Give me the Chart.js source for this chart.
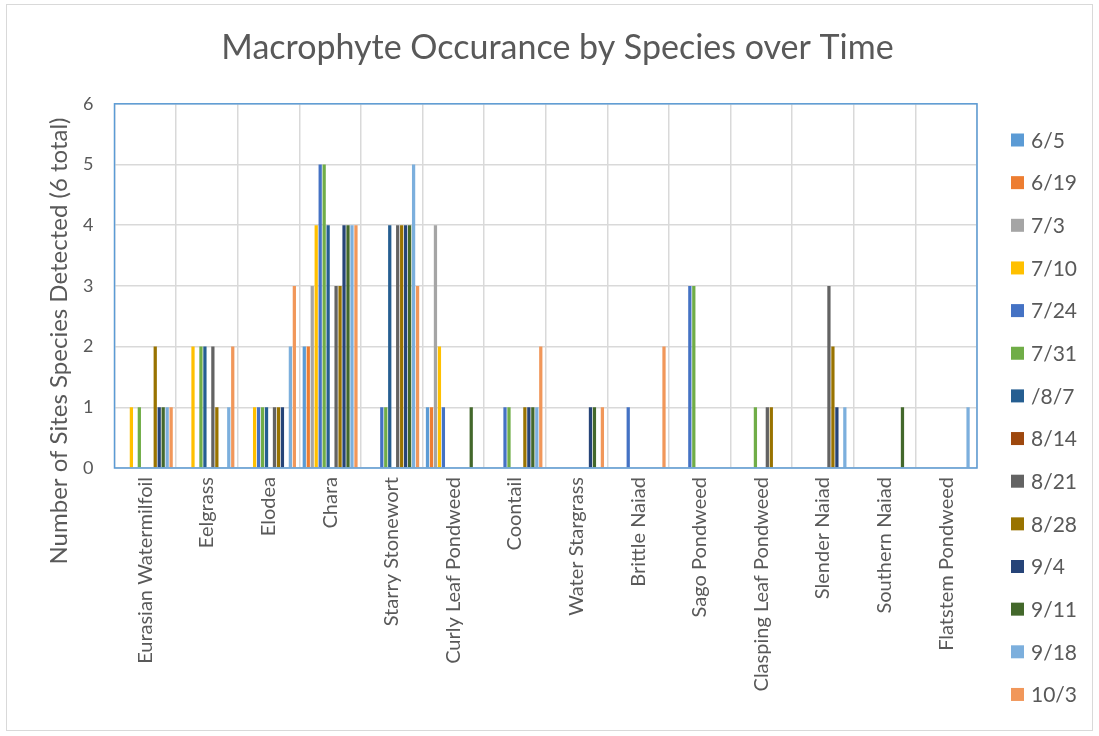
<!DOCTYPE html>
<html>
<head>
<meta charset="utf-8">
<script src="https://cdn.jsdelivr.net/npm/chart.js@4.4.1/dist/chart.umd.min.js"></script>
<style>
  html, body { margin: 0; padding: 0; background: #ffffff; }
  canvas { display: block; }
</style>
</head>
<body>
<canvas id="chart" width="1099" height="736"></canvas>
<script>
// Species surveyed (x categories)
const species = [
  'Eurasian Watermilfoil', 'Eelgrass', 'Elodea', 'Chara', 'Starry Stonewort',
  'Curly Leaf Pondweed', 'Coontail', 'Water Stargrass', 'Brittle Naiad',
  'Sago Pondweed', 'Clasping Leaf Pondweed', 'Slender Naiad', 'Southern Naiad',
  'Flatstem Pondweed'
];

// Survey dates (one series each)
const surveyDates = ['6/5', '6/19', '7/3', '7/10', '7/24', '7/31', '/8/7', '8/14',
  '8/21', '8/28', '9/4', '9/11', '9/18', '10/3'];

// Sites (of 6) where each species was found, per survey date
const d0605 = [0, 0, 0, 2, 0, 1, 0, 0, 0, 0, 0, 0, 0, 0];
const d0619 = [0, 0, 0, 2, 0, 1, 0, 0, 0, 0, 0, 0, 0, 0];
const d0703 = [0, 0, 0, 3, 0, 4, 0, 0, 0, 0, 0, 0, 0, 0];
const d0710 = [1, 2, 1, 4, 0, 2, 0, 0, 0, 0, 0, 0, 0, 0];
const d0724 = [0, 0, 1, 5, 1, 1, 1, 0, 1, 3, 0, 0, 0, 0];
const d0731 = [1, 2, 1, 5, 1, 0, 1, 0, 0, 3, 1, 0, 0, 0];
const d0807 = [0, 2, 1, 4, 4, 0, 0, 0, 0, 0, 0, 0, 0, 0];
const d0814 = [0, 0, 0, 0, 0, 0, 0, 0, 0, 0, 0, 0, 0, 0];
const d0821 = [0, 2, 1, 3, 4, 0, 0, 0, 0, 0, 1, 3, 0, 0];
const d0828 = [2, 1, 1, 3, 4, 0, 1, 0, 0, 0, 1, 2, 0, 0];
const d0904 = [1, 0, 1, 4, 4, 0, 1, 1, 0, 0, 0, 1, 0, 0];
const d0911 = [1, 0, 0, 4, 4, 1, 1, 1, 0, 0, 0, 0, 1, 0];
const d0918 = [1, 1, 2, 4, 5, 0, 1, 0, 0, 0, 0, 1, 0, 1];
const d1003 = [1, 2, 3, 4, 3, 0, 2, 1, 2, 0, 0, 0, 0, 0];

const seriesValues = [d0605, d0619, d0703, d0710, d0724, d0731, d0807, d0814,
  d0821, d0828, d0904, d0911, d0918, d1003];

const seriesColors = ['#5B9BD5', '#ED7D31', '#A5A5A5', '#FFC000', '#4472C4', '#70AD47',
  '#255E91', '#9E480E', '#636363', '#997300', '#264478', '#43682B', '#7CAFDD', '#F1975A'];

const yTicks = [0, 1, 2, 3, 4, 5, 6];
const chartTitle = 'Macrophyte Occurance by Species over Time';
const yAxisTitle = 'Number of Sites Species Detected (6 total)';

const textColor = '#595959';
const gridColor = '#D9D9D9';
const fontFamily = 'Lato, "Open Sans", "Liberation Sans", sans-serif';

const datasets = surveyDates.map((label, i) => ({
  label: label,
  data: seriesValues[i],
  backgroundColor: seriesColors[i],
  borderWidth: 0,
  barPercentage: 0.82,
  categoryPercentage: 14 / 15.5,
  yAxisID: 'y'
}));

// White background, outer frame, and plot-area outline
const framePlugin = {
  id: 'frame',
  beforeDraw(chart) {
    const ctx = chart.ctx;
    ctx.save();
    ctx.fillStyle = '#ffffff';
    ctx.fillRect(0, 0, chart.width, chart.height);
    ctx.strokeStyle = gridColor;
    ctx.lineWidth = 1;
    ctx.strokeRect(6.5, 4.5, chart.width - 13, chart.height - 10);
    ctx.restore();
  },
  afterDatasetsDraw(chart) {
    const a = chart.chartArea;
    const ctx = chart.ctx;
    ctx.save();
    ctx.strokeStyle = '#5B9BD5';
    ctx.lineWidth = 1.5;
    ctx.strokeRect(a.left, a.top, a.right - a.left, a.bottom - a.top);
    ctx.restore();
  }
};

// Rotated y-axis title
const yTitlePlugin = {
  id: 'yTitle',
  afterDraw(chart) {
    const ctx = chart.ctx;
    ctx.save();
    ctx.translate(59, 341);
    ctx.rotate(-Math.PI / 2);
    ctx.font = '24px ' + fontFamily;
    ctx.fillStyle = textColor;
    ctx.textAlign = 'center';
    ctx.textBaseline = 'middle';
    ctx.fillText(yAxisTitle, 0, 0);
    ctx.restore();
  }
};

// Vertical legend on the right
const legendPlugin = {
  id: 'sideLegend',
  afterDraw(chart) {
    const ctx = chart.ctx;
    ctx.save();
    ctx.font = '21px ' + fontFamily;
    ctx.textBaseline = 'middle';
    ctx.textAlign = 'left';
    chart.data.datasets.forEach((ds, i) => {
      const cy = 140 + i * 42.65;
      ctx.fillStyle = ds.backgroundColor;
      ctx.fillRect(1011, cy - 6.5, 13, 13);
      ctx.fillStyle = textColor;
      ctx.fillText(ds.label, 1031, cy + 1);
    });
    ctx.restore();
  }
};

new Chart(document.getElementById('chart'), {
  type: 'bar',
  data: { labels: species, datasets: datasets },
  options: {
    responsive: false,
    animation: false,
    layout: { padding: { left: 16, right: 0, top: 0, bottom: 0 } },
    plugins: {
      legend: { display: false },
      tooltip: { enabled: false },
      title: {
        display: true,
        text: chartTitle,
        color: textColor,
        font: { family: fontFamily, size: 34, weight: '400' },
        padding: { top: 28, bottom: 35 }
      }
    },
    scales: {
      x: {
        grid: { color: gridColor, lineWidth: 1.5, drawTicks: false, offset: true },
        border: { display: false },
        ticks: {
          color: textColor,
          font: { family: fontFamily, size: 20 },
          maxRotation: 90,
          minRotation: 90,
          padding: 9,
          autoSkip: false
        },
        afterFit(scale) { scale.height = 268; }
      },
      y: {
        min: 0,
        max: 6,
        grid: { color: gridColor, lineWidth: 1.5, drawTicks: false },
        border: { display: false },
        afterBuildTicks(scale) { scale.ticks = yTicks.map(v => ({ value: v })); },
        ticks: {
          color: textColor,
          font: { family: fontFamily, size: 18 },
          padding: 21
        },
        afterFit(scale) { scale.width = 98.5; }
      },
      // keeps the strip on the right free for the legend
      legendSpace: {
        position: 'right',
        min: 0,
        max: 6,
        grid: { display: false },
        border: { display: false },
        ticks: { display: false },
        afterFit(scale) { scale.width = 122; }
      }
    }
  },
  plugins: [framePlugin, yTitlePlugin, legendPlugin]
});
</script>
</body>
</html>
